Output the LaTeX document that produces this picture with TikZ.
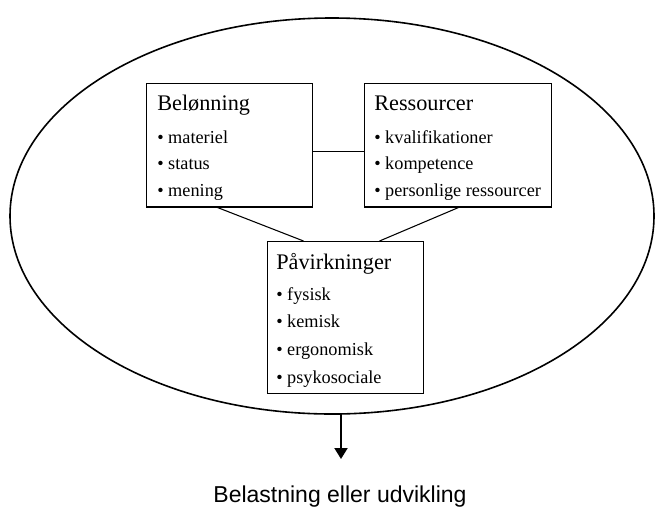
\documentclass[tikz,border=0pt]{standalone}
\usepackage{fontspec}
\setmainfont{Liberation Serif}
\newfontfamily\labelfont{Liberation Sans}
\usetikzlibrary{arrows.meta}

\begin{document}
\begin{tikzpicture}[x=0.75pt,y=-0.75pt,
    box/.style={draw,line width=0.8pt,inner sep=0,anchor=north west},
    headtext/.style={inner sep=0,anchor=base west,font=\fontsize{16.7}{20}\selectfont},
    itemtext/.style={inner sep=0,anchor=base west,font=\fontsize{13.7}{16}\selectfont},
    link/.style={line width=0.8pt}]
    \useasboundingbox (0,0) rectangle (655,507);
    % outer ellipse
    \draw[line width=1.2pt] (332,216) ellipse (241.5pt and 148.5pt);
    % boxes
    \node[box,minimum width=124.9pt,minimum height=92.6pt] (bel) at (145.5,83) {};
    \node[box,minimum width=139.9pt,minimum height=92.6pt] (res) at (364,83) {};
    \node[box,minimum width=117pt,minimum height=114pt] (pav) at (267,241) {};
    % box texts
    \node[headtext] (bel-head) at (157,110) {Belønning};
    \foreach \txt [count=\i] in {materiel,status,mening}
        {\node[itemtext] (bel-\i) at (157,{116.5+26.5*\i}) {\textbullet\ \txt};}
    \node[headtext] (res-head) at (374,110) {Ressourcer};
    \foreach \txt [count=\i] in {kvalifikationer,kompetence,personlige ressourcer}
        {\node[itemtext] (res-\i) at (374,{116.5+26.5*\i}) {\textbullet\ \txt};}
    \node[headtext] (pav-head) at (276,269) {Påvirkninger};
    \foreach \txt [count=\i] in {fysisk,kemisk,ergonomisk,psykosociale}
        {\node[itemtext] (pav-\i) at (276,{272.3+27.7*\i}) {\textbullet\ \txt};}
    % connectors
    \draw[link] ([yshift=-4.7pt]bel.east) -- ([yshift=-4.7pt]res.west);
    \draw[link] ([xshift=-8.8pt]bel.south) -- ([xshift=-31.5pt]pav.north);
    \draw[link] ([xshift=0.5pt]res.south) -- ([xshift=25.5pt]pav.north);
    % outcome
    \coordinate (ell-bottom) at (341,414);
    \coordinate (arrow-end) at (341,459);
    \draw[line width=1.5pt,-{Triangle[width=9.75pt,length=8.25pt]}] (ell-bottom) -- (arrow-end);
    \node[inner sep=0,anchor=base,font=\labelfont\fontsize{17.25}{20}\selectfont] (result) at (340,502) {Belastning eller udvikling};
\end{tikzpicture}
\end{document}
